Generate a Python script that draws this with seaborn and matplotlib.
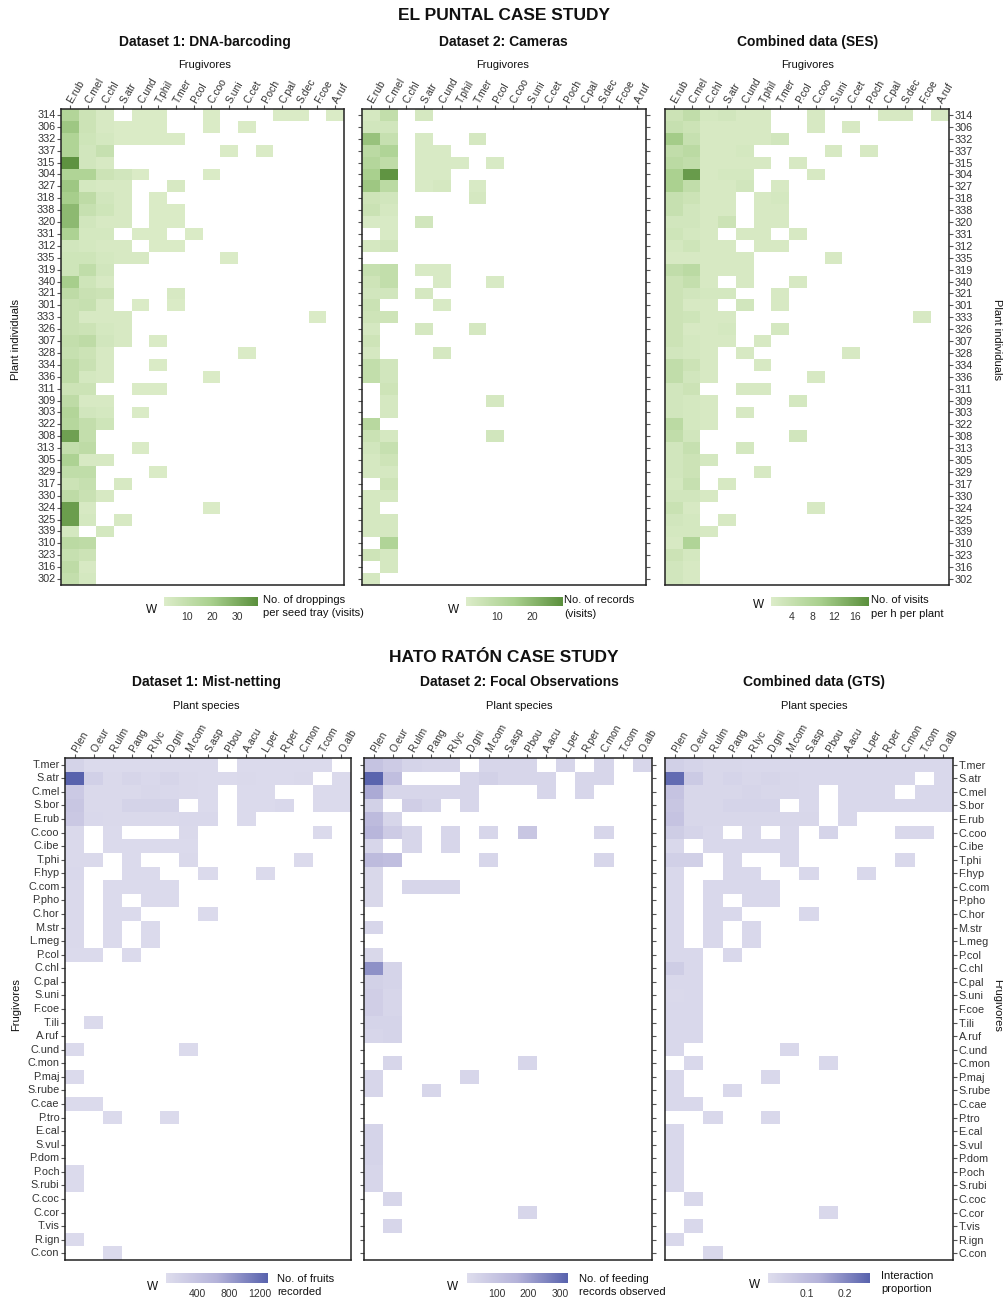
import numpy as np
import pandas as pd
import matplotlib
matplotlib.use("Agg")
import matplotlib.pyplot as plt
from matplotlib.colors import LinearSegmentedColormap
import seaborn as sns

sns.set_style("white")
plt.rcParams['font.family'] = ['Liberation Sans', 'DejaVu Sans']

# ---------------- EL PUNTAL ----------------
plants = ["314", "306", "332", "337", "315", "304", "327", "318", "338", "320",
          "331", "312", "335", "319", "340", "321", "301", "333", "326", "307",
          "328", "334", "336", "311", "309", "303", "322", "308", "313", "305",
          "329", "317", "330", "324", "325", "339", "310", "323", "316", "302"]
frugivores_ep = ["E.rub", "C.mel", "C.chl", "S.atr", "C.und", "T.phil", "T.mer", "P.col",
                 "C.coo", "S.uni", "C.cet", "P.och", "C.pal", "S.dec", "F.coe", "A.ruf"]

# droppings per seed tray (DNA-barcoding)
dna = [
    [16, 7, 3, 0, 2, 2, 0, 0, 2, 0, 0, 0, 2, 2, 0, 2],
    [22, 7, 3, 2, 2, 2, 0, 0, 2, 0, 2, 0, 0, 0, 0, 0],
    [17, 6, 4, 2, 2, 2, 2, 0, 0, 0, 0, 0, 0, 0, 0, 0],
    [17, 5, 9, 0, 0, 0, 0, 0, 0, 2, 0, 2, 0, 0, 0, 0],
    [37, 5, 3, 0, 0, 0, 0, 0, 0, 0, 0, 0, 0, 0, 0, 0],
    [17, 17, 7, 5, 2, 0, 0, 0, 2, 0, 0, 0, 0, 0, 0, 0],
    [22, 4, 3, 3, 0, 0, 3, 0, 0, 0, 0, 0, 0, 0, 0, 0],
    [20, 12, 5, 3, 0, 2, 0, 0, 0, 0, 0, 0, 0, 0, 0, 0],
    [26, 9, 6, 3, 0, 2, 2, 0, 0, 0, 0, 0, 0, 0, 0, 0],
    [26, 5, 3, 3, 0, 2, 2, 0, 0, 0, 0, 0, 0, 0, 0, 0],
    [18, 4, 4, 0, 2, 2, 0, 2, 0, 0, 0, 0, 0, 0, 0, 0],
    [5, 4, 3, 3, 0, 2, 2, 0, 0, 0, 0, 0, 0, 0, 0, 0],
    [6, 6, 4, 3, 3, 0, 0, 0, 0, 2, 0, 0, 0, 0, 0, 0],
    [6, 11, 5, 0, 0, 0, 0, 0, 0, 0, 0, 0, 0, 0, 0, 0],
    [20, 6, 3, 0, 0, 0, 0, 0, 0, 0, 0, 0, 0, 0, 0, 0],
    [12, 8, 7, 0, 0, 0, 3, 0, 0, 0, 0, 0, 0, 0, 0, 0],
    [8, 9, 3, 0, 2, 0, 2, 0, 0, 0, 0, 0, 0, 0, 0, 0],
    [8, 3, 3, 3, 0, 0, 0, 0, 0, 0, 0, 0, 0, 0, 2, 0],
    [8, 7, 4, 3, 0, 0, 0, 0, 0, 0, 0, 0, 0, 0, 0, 0],
    [10, 12, 5, 3, 0, 2, 0, 0, 0, 0, 0, 0, 0, 0, 0, 0],
    [9, 7, 3, 0, 0, 0, 0, 0, 0, 0, 2, 0, 0, 0, 0, 0],
    [12, 8, 3, 0, 0, 2, 0, 0, 0, 0, 0, 0, 0, 0, 0, 0],
    [12, 4, 3, 0, 0, 0, 0, 0, 2, 0, 0, 0, 0, 0, 0, 0],
    [7, 7, 0, 0, 2, 2, 0, 0, 0, 0, 0, 0, 0, 0, 0, 0],
    [12, 3, 3, 0, 0, 0, 0, 0, 0, 0, 0, 0, 0, 0, 0, 0],
    [16, 5, 4, 0, 2, 0, 0, 0, 0, 0, 0, 0, 0, 0, 0, 0],
    [15, 10, 6, 0, 0, 0, 0, 0, 0, 0, 0, 0, 0, 0, 0, 0],
    [33, 10, 0, 0, 0, 0, 0, 0, 0, 0, 0, 0, 0, 0, 0, 0],
    [10, 12, 0, 0, 2, 0, 0, 0, 0, 0, 0, 0, 0, 0, 0, 0],
    [18, 3, 3, 0, 0, 0, 0, 0, 0, 0, 0, 0, 0, 0, 0, 0],
    [11, 11, 0, 0, 0, 2, 0, 0, 0, 0, 0, 0, 0, 0, 0, 0],
    [7, 9, 0, 3, 0, 0, 0, 0, 0, 0, 0, 0, 0, 0, 0, 0],
    [12, 8, 3, 0, 0, 0, 0, 0, 0, 0, 0, 0, 0, 0, 0, 0],
    [34, 3, 0, 0, 0, 0, 0, 0, 2, 0, 0, 0, 0, 0, 0, 0],
    [34, 4, 0, 3, 0, 0, 0, 0, 0, 0, 0, 0, 0, 0, 0, 0],
    [4, 0, 4, 0, 0, 0, 0, 0, 0, 0, 0, 0, 0, 0, 0, 0],
    [13, 12, 0, 0, 0, 0, 0, 0, 0, 0, 0, 0, 0, 0, 0, 0],
    [9, 7, 0, 0, 0, 0, 0, 0, 0, 0, 0, 0, 0, 0, 0, 0],
    [12, 3, 0, 0, 0, 0, 0, 0, 0, 0, 0, 0, 0, 0, 0, 0],
    [10, 4, 0, 0, 0, 0, 0, 0, 0, 0, 0, 0, 0, 0, 0, 0],
]

# camera records
cameras = [
    [3, 8, 0, 3, 0, 0, 0, 0, 0, 0, 0, 0, 0, 0, 0, 0],
    [4, 4, 0, 0, 0, 0, 0, 0, 0, 0, 0, 0, 0, 0, 0, 0],
    [18, 7, 0, 2, 0, 0, 3, 0, 0, 0, 0, 0, 0, 0, 0, 0],
    [10, 13, 0, 2, 2, 0, 0, 0, 0, 0, 0, 0, 0, 0, 0, 0],
    [12, 9, 0, 2, 2, 2, 0, 2, 0, 0, 0, 0, 0, 0, 0, 0],
    [15, 28, 0, 2, 2, 0, 0, 0, 0, 0, 0, 0, 0, 0, 0, 0],
    [17, 10, 0, 2, 3, 0, 2, 0, 0, 0, 0, 0, 0, 0, 0, 0],
    [5, 4, 0, 0, 0, 0, 3, 0, 0, 0, 0, 0, 0, 0, 0, 0],
    [6, 3, 0, 0, 0, 0, 0, 0, 0, 0, 0, 0, 0, 0, 0, 0],
    [2, 2, 0, 4, 0, 0, 0, 0, 0, 0, 0, 0, 0, 0, 0, 0],
    [0, 2, 0, 0, 0, 0, 0, 0, 0, 0, 0, 0, 0, 0, 0, 0],
    [3, 4, 0, 0, 0, 0, 0, 0, 0, 0, 0, 0, 0, 0, 0, 0],
    [0, 0, 0, 0, 0, 0, 0, 0, 0, 0, 0, 0, 0, 0, 0, 0],
    [7, 8, 0, 2, 2, 0, 0, 0, 0, 0, 0, 0, 0, 0, 0, 0],
    [5, 8, 0, 0, 2, 0, 0, 2, 0, 0, 0, 0, 0, 0, 0, 0],
    [4, 4, 0, 3, 0, 0, 0, 0, 0, 0, 0, 0, 0, 0, 0, 0],
    [6, 0, 0, 0, 2, 0, 0, 0, 0, 0, 0, 0, 0, 0, 0, 0],
    [5, 5, 0, 0, 0, 0, 0, 0, 0, 0, 0, 0, 0, 0, 0, 0],
    [3, 0, 0, 3, 0, 0, 3, 0, 0, 0, 0, 0, 0, 0, 0, 0],
    [5, 0, 0, 0, 0, 0, 0, 0, 0, 0, 0, 0, 0, 0, 0, 0],
    [3, 0, 0, 0, 3, 0, 0, 0, 0, 0, 0, 0, 0, 0, 0, 0],
    [8, 4, 0, 0, 0, 0, 0, 0, 0, 0, 0, 0, 0, 0, 0, 0],
    [8, 4, 0, 0, 0, 0, 0, 0, 0, 0, 0, 0, 0, 0, 0, 0],
    [0, 5, 0, 0, 0, 0, 0, 0, 0, 0, 0, 0, 0, 0, 0, 0],
    [0, 3, 0, 0, 0, 0, 0, 3, 0, 0, 0, 0, 0, 0, 0, 0],
    [0, 3, 0, 0, 0, 0, 0, 0, 0, 0, 0, 0, 0, 0, 0, 0],
    [11, 0, 0, 0, 0, 0, 0, 0, 0, 0, 0, 0, 0, 0, 0, 0],
    [6, 3, 0, 0, 0, 0, 0, 4, 0, 0, 0, 0, 0, 0, 0, 0],
    [4, 7, 0, 0, 0, 0, 0, 0, 0, 0, 0, 0, 0, 0, 0, 0],
    [3, 5, 0, 0, 0, 0, 0, 0, 0, 0, 0, 0, 0, 0, 0, 0],
    [3, 3, 0, 0, 0, 0, 0, 0, 0, 0, 0, 0, 0, 0, 0, 0],
    [0, 5, 0, 0, 0, 0, 0, 0, 0, 0, 0, 0, 0, 0, 0, 0],
    [3, 3, 0, 0, 0, 0, 0, 0, 0, 0, 0, 0, 0, 0, 0, 0],
    [3, 0, 0, 0, 0, 0, 0, 0, 0, 0, 0, 0, 0, 0, 0, 0],
    [3, 3, 0, 0, 0, 0, 0, 0, 0, 0, 0, 0, 0, 0, 0, 0],
    [3, 3, 0, 0, 0, 0, 0, 0, 0, 0, 0, 0, 0, 0, 0, 0],
    [0, 13, 0, 0, 0, 0, 0, 0, 0, 0, 0, 0, 0, 0, 0, 0],
    [5, 3, 0, 0, 0, 0, 0, 0, 0, 0, 0, 0, 0, 0, 0, 0],
    [0, 3, 0, 0, 0, 0, 0, 0, 0, 0, 0, 0, 0, 0, 0, 0],
    [3, 0, 0, 0, 0, 0, 0, 0, 0, 0, 0, 0, 0, 0, 0, 0],
]

# combined visits per h per plant (SES)
ses = [
    [3, 5, 1.5, 2, 1, 1, 0, 0, 1, 0, 0, 0, 1, 1, 0, 1],
    [4, 3, 1, 1, 1, 1, 0, 0, 1, 0, 1, 0, 0, 0, 0, 0],
    [10, 4, 1, 1, 1, 1, 2, 0, 0, 0, 0, 0, 0, 0, 0, 0],
    [5, 6, 1, 1, 1.5, 0, 0, 0, 0, 1, 0, 1, 0, 0, 0, 0],
    [6, 5, 1, 1, 1, 1, 0, 1, 0, 0, 0, 0, 0, 0, 0, 0],
    [9, 17, 1, 1.5, 1.5, 0, 0, 0, 1, 0, 0, 0, 0, 0, 0, 0],
    [9, 5, 1, 1, 2, 0, 1, 0, 0, 0, 0, 0, 0, 0, 0, 0],
    [4, 3, 1, 1, 0, 1, 1.5, 0, 0, 0, 0, 0, 0, 0, 0, 0],
    [4, 2, 1, 1, 0, 1, 1, 0, 0, 0, 0, 0, 0, 0, 0, 0],
    [2, 2, 1, 3, 0, 1, 1, 0, 0, 0, 0, 0, 0, 0, 0, 0],
    [2.5, 1.5, 1, 0, 1, 1, 0, 1, 0, 0, 0, 0, 0, 0, 0, 0],
    [1.5, 2.5, 1, 1, 0, 1, 1, 0, 0, 0, 0, 0, 0, 0, 0, 0],
    [1, 1, 1, 1, 1, 0, 0, 0, 0, 1, 0, 0, 0, 0, 0, 0],
    [5, 6, 1, 1, 1, 0, 0, 0, 0, 0, 0, 0, 0, 0, 0, 0],
    [3, 4.5, 1, 0, 1, 0, 0, 1, 0, 0, 0, 0, 0, 0, 0, 0],
    [3, 2, 1.5, 1.5, 0, 0, 1, 0, 0, 0, 0, 0, 0, 0, 0, 0],
    [3, 1, 1, 0, 2, 0, 1, 0, 0, 0, 0, 0, 0, 0, 0, 0],
    [3, 2.5, 1, 1, 0, 0, 0, 0, 0, 0, 0, 0, 0, 0, 1, 0],
    [3, 1, 1, 1.5, 0, 0, 1.5, 0, 0, 0, 0, 0, 0, 0, 0, 0],
    [3, 1.5, 1, 1, 0, 1, 0, 0, 0, 0, 0, 0, 0, 0, 0, 0],
    [2, 1.5, 1, 0, 1, 0, 0, 0, 0, 0, 1, 0, 0, 0, 0, 0],
    [5, 3, 1, 0, 0, 1, 0, 0, 0, 0, 0, 0, 0, 0, 0, 0],
    [5, 2, 1, 0, 0, 0, 0, 0, 1, 0, 0, 0, 0, 0, 0, 0],
    [2, 3, 0, 0, 1, 1, 0, 0, 0, 0, 0, 0, 0, 0, 0, 0],
    [2, 1.5, 1, 0, 0, 0, 0, 1.5, 0, 0, 0, 0, 0, 0, 0, 0],
    [2, 1.5, 1, 0, 1, 0, 0, 0, 0, 0, 0, 0, 0, 0, 0, 0],
    [6, 1.5, 1, 0, 0, 0, 0, 0, 0, 0, 0, 0, 0, 0, 0, 0],
    [5, 2, 0, 0, 0, 0, 0, 2, 0, 0, 0, 0, 0, 0, 0, 0],
    [2, 4, 0, 0, 1.5, 0, 0, 0, 0, 0, 0, 0, 0, 0, 0, 0],
    [2, 3, 1.5, 0, 0, 0, 0, 0, 0, 0, 0, 0, 0, 0, 0, 0],
    [2, 3, 0, 0, 0, 1, 0, 0, 0, 0, 0, 0, 0, 0, 0, 0],
    [1.5, 4, 0, 1, 0, 0, 0, 0, 0, 0, 0, 0, 0, 0, 0, 0],
    [2, 2, 1, 0, 0, 0, 0, 0, 0, 0, 0, 0, 0, 0, 0, 0],
    [3.5, 1, 0, 0, 0, 0, 0, 0, 1, 0, 0, 0, 0, 0, 0, 0],
    [2, 1.5, 0, 1, 0, 0, 0, 0, 0, 0, 0, 0, 0, 0, 0, 0],
    [1.5, 1.5, 1, 0, 0, 0, 0, 0, 0, 0, 0, 0, 0, 0, 0, 0],
    [1, 8, 0, 0, 0, 0, 0, 0, 0, 0, 0, 0, 0, 0, 0, 0],
    [3, 1.5, 0, 0, 0, 0, 0, 0, 0, 0, 0, 0, 0, 0, 0, 0],
    [2, 1, 0, 0, 0, 0, 0, 0, 0, 0, 0, 0, 0, 0, 0, 0],
    [2, 1, 0, 0, 0, 0, 0, 0, 0, 0, 0, 0, 0, 0, 0, 0],
]

# ---------------- HATO RATON ----------------
birds_hr = ["T.mer", "S.atr", "C.mel", "S.bor", "E.rub", "C.coo", "C.ibe", "T.phi", "F.hyp",
            "C.com", "P.pho", "C.hor", "M.str", "L.meg", "P.col", "C.chl", "C.pal", "S.uni",
            "F.coe", "T.ili", "A.ruf", "C.und", "C.mon", "P.maj", "S.rube", "C.cae", "P.tro",
            "E.cal", "S.vul", "P.dom", "P.och", "S.rubi", "C.coc", "C.cor", "T.vis", "R.ign",
            "C.con"]
plant_species = ["P.len", "O.eur", "R.ulm", "P.ang", "R.lyc", "D.gni", "M.com", "S.asp",
                 "P.bou", "A.acu", "L.per", "R.per", "C.mon", "T.com", "O.alb"]

# fruits recorded (mist-netting)
mist = [
    [150, 50, 50, 50, 50, 50, 50, 50, 0, 50, 50, 50, 50, 50, 0],
    [1300, 200, 60, 120, 80, 120, 60, 50, 50, 60, 50, 50, 60, 0, 50],
    [300, 60, 60, 60, 100, 80, 60, 50, 0, 50, 50, 0, 0, 50, 50],
    [350, 60, 60, 150, 150, 150, 0, 50, 0, 50, 50, 80, 0, 50, 50],
    [320, 80, 60, 60, 60, 60, 80, 80, 0, 50, 0, 0, 0, 0, 0],
    [60, 0, 50, 0, 0, 0, 60, 0, 0, 0, 0, 0, 0, 50, 0],
    [60, 0, 50, 50, 50, 50, 50, 0, 0, 0, 0, 0, 0, 0, 0],
    [60, 60, 0, 50, 0, 0, 60, 0, 0, 0, 0, 0, 50, 0, 0],
    [80, 0, 0, 50, 50, 0, 0, 50, 0, 0, 50, 0, 0, 0, 0],
    [60, 0, 50, 50, 50, 50, 0, 0, 0, 0, 0, 0, 0, 0, 0],
    [60, 0, 50, 0, 50, 50, 0, 0, 0, 0, 0, 0, 0, 0, 0],
    [60, 0, 50, 50, 0, 0, 0, 50, 0, 0, 0, 0, 0, 0, 0],
    [60, 0, 50, 0, 50, 0, 0, 0, 0, 0, 0, 0, 0, 0, 0],
    [60, 0, 50, 0, 50, 0, 0, 0, 0, 0, 0, 0, 0, 0, 0],
    [50, 50, 0, 50, 0, 0, 0, 0, 0, 0, 0, 0, 0, 0, 0],
    [0, 0, 0, 0, 0, 0, 0, 0, 0, 0, 0, 0, 0, 0, 0],
    [0, 0, 0, 0, 0, 0, 0, 0, 0, 0, 0, 0, 0, 0, 0],
    [0, 0, 0, 0, 0, 0, 0, 0, 0, 0, 0, 0, 0, 0, 0],
    [0, 0, 0, 0, 0, 0, 0, 0, 0, 0, 0, 0, 0, 0, 0],
    [0, 50, 0, 0, 0, 0, 0, 0, 0, 0, 0, 0, 0, 0, 0],
    [0, 0, 0, 0, 0, 0, 0, 0, 0, 0, 0, 0, 0, 0, 0],
    [50, 0, 0, 0, 0, 0, 50, 0, 0, 0, 0, 0, 0, 0, 0],
    [0, 0, 0, 0, 0, 0, 0, 0, 0, 0, 0, 0, 0, 0, 0],
    [50, 0, 0, 0, 0, 0, 0, 0, 0, 0, 0, 0, 0, 0, 0],
    [0, 0, 0, 0, 0, 0, 0, 0, 0, 0, 0, 0, 0, 0, 0],
    [50, 50, 0, 0, 0, 0, 0, 0, 0, 0, 0, 0, 0, 0, 0],
    [0, 0, 50, 0, 0, 50, 0, 0, 0, 0, 0, 0, 0, 0, 0],
    [0, 0, 0, 0, 0, 0, 0, 0, 0, 0, 0, 0, 0, 0, 0],
    [0, 0, 0, 0, 0, 0, 0, 0, 0, 0, 0, 0, 0, 0, 0],
    [0, 0, 0, 0, 0, 0, 0, 0, 0, 0, 0, 0, 0, 0, 0],
    [50, 0, 0, 0, 0, 0, 0, 0, 0, 0, 0, 0, 0, 0, 0],
    [50, 0, 0, 0, 0, 0, 0, 0, 0, 0, 0, 0, 0, 0, 0],
    [0, 0, 0, 0, 0, 0, 0, 0, 0, 0, 0, 0, 0, 0, 0],
    [0, 0, 0, 0, 0, 0, 0, 0, 0, 0, 0, 0, 0, 0, 0],
    [0, 0, 0, 0, 0, 0, 0, 0, 0, 0, 0, 0, 0, 0, 0],
    [50, 0, 0, 0, 0, 0, 0, 0, 0, 0, 0, 0, 0, 0, 0],
    [0, 0, 50, 0, 0, 0, 0, 0, 0, 0, 0, 0, 0, 0, 0],
]

# feeding records (focal observations)
focal = [
    [100, 70, 40, 30, 30, 0, 30, 30, 30, 0, 30, 0, 30, 0, 30],
    [320, 120, 0, 0, 0, 30, 50, 30, 30, 30, 0, 30, 30, 0, 0],
    [180, 30, 30, 30, 30, 30, 0, 0, 0, 30, 0, 30, 0, 0, 0],
    [50, 0, 60, 40, 0, 30, 0, 0, 0, 0, 0, 0, 0, 0, 0],
    [130, 30, 0, 0, 0, 0, 0, 0, 0, 0, 0, 0, 0, 0, 0],
    [150, 70, 30, 0, 30, 0, 30, 0, 90, 0, 0, 0, 30, 0, 0],
    [30, 0, 30, 0, 30, 0, 0, 0, 0, 0, 0, 0, 0, 0, 0],
    [130, 120, 0, 0, 0, 0, 30, 0, 0, 0, 0, 0, 30, 0, 0],
    [25, 0, 0, 0, 0, 0, 0, 0, 0, 0, 0, 0, 0, 0, 0],
    [25, 0, 30, 30, 30, 0, 0, 0, 0, 0, 0, 0, 0, 0, 0],
    [25, 0, 0, 0, 0, 0, 0, 0, 0, 0, 0, 0, 0, 0, 0],
    [0, 0, 0, 0, 0, 0, 0, 0, 0, 0, 0, 0, 0, 0, 0],
    [30, 0, 0, 0, 0, 0, 0, 0, 0, 0, 0, 0, 0, 0, 0],
    [0, 0, 0, 0, 0, 0, 0, 0, 0, 0, 0, 0, 0, 0, 0],
    [25, 0, 0, 0, 0, 0, 0, 0, 0, 0, 0, 0, 0, 0, 0],
    [230, 40, 0, 0, 0, 0, 0, 0, 0, 0, 0, 0, 0, 0, 0],
    [50, 40, 0, 0, 0, 0, 0, 0, 0, 0, 0, 0, 0, 0, 0],
    [60, 30, 0, 0, 0, 0, 0, 0, 0, 0, 0, 0, 0, 0, 0],
    [60, 30, 0, 0, 0, 0, 0, 0, 0, 0, 0, 0, 0, 0, 0],
    [40, 40, 0, 0, 0, 0, 0, 0, 0, 0, 0, 0, 0, 0, 0],
    [30, 40, 0, 0, 0, 0, 0, 0, 0, 0, 0, 0, 0, 0, 0],
    [0, 0, 0, 0, 0, 0, 0, 0, 0, 0, 0, 0, 0, 0, 0],
    [0, 30, 0, 0, 0, 0, 0, 0, 30, 0, 0, 0, 0, 0, 0],
    [30, 0, 0, 0, 0, 30, 0, 0, 0, 0, 0, 0, 0, 0, 0],
    [30, 0, 0, 30, 0, 0, 0, 0, 0, 0, 0, 0, 0, 0, 0],
    [0, 0, 0, 0, 0, 0, 0, 0, 0, 0, 0, 0, 0, 0, 0],
    [0, 0, 0, 0, 0, 0, 0, 0, 0, 0, 0, 0, 0, 0, 0],
    [40, 0, 0, 0, 0, 0, 0, 0, 0, 0, 0, 0, 0, 0, 0],
    [40, 0, 0, 0, 0, 0, 0, 0, 0, 0, 0, 0, 0, 0, 0],
    [40, 0, 0, 0, 0, 0, 0, 0, 0, 0, 0, 0, 0, 0, 0],
    [30, 0, 0, 0, 0, 0, 0, 0, 0, 0, 0, 0, 0, 0, 0],
    [30, 0, 0, 0, 0, 0, 0, 0, 0, 0, 0, 0, 0, 0, 0],
    [0, 30, 0, 0, 0, 0, 0, 0, 0, 0, 0, 0, 0, 0, 0],
    [0, 0, 0, 0, 0, 0, 0, 0, 30, 0, 0, 0, 0, 0, 0],
    [0, 30, 0, 0, 0, 0, 0, 0, 0, 0, 0, 0, 0, 0, 0],
    [0, 0, 0, 0, 0, 0, 0, 0, 0, 0, 0, 0, 0, 0, 0],
    [0, 0, 0, 0, 0, 0, 0, 0, 0, 0, 0, 0, 0, 0, 0],
]

# interaction proportion (GTS)
gts = [
    [.04, .03, .02, .02, .015, .015, .015, .015, .015, .015, .015, .015, .015, .015, .015],
    [.25, .06, .02, .03, .02, .025, .02, .015, .015, .015, .015, .015, .015, 0, .015],
    [.08, .02, .02, .02, .025, .02, .02, .015, 0, .015, .015, .015, 0, .015, .015],
    [.07, .02, .02, .03, .03, .03, 0, .015, 0, .015, .015, .015, .015, .015, .015],
    [.08, .02, .02, .02, .02, .02, .02, .02, 0, .015, 0, 0, 0, 0, 0],
    [.05, .03, .015, 0, .015, 0, .015, 0, .03, 0, 0, 0, .015, .015, 0],
    [.015, 0, .015, .015, .015, .015, .015, 0, 0, 0, 0, 0, 0, 0, 0],
    [.04, .04, 0, .015, 0, 0, .015, 0, 0, 0, 0, 0, .015, 0, 0],
    [.015, 0, 0, .015, .015, 0, 0, .015, 0, 0, .015, 0, 0, 0, 0],
    [.015, 0, .015, .015, .015, .015, 0, 0, 0, 0, 0, 0, 0, 0, 0],
    [.015, 0, .015, 0, .015, .015, 0, 0, 0, 0, 0, 0, 0, 0, 0],
    [.015, 0, .015, .015, 0, 0, 0, .015, 0, 0, 0, 0, 0, 0, 0],
    [.015, 0, .015, 0, .015, 0, 0, 0, 0, 0, 0, 0, 0, 0, 0],
    [.015, 0, .015, 0, .015, 0, 0, 0, 0, 0, 0, 0, 0, 0, 0],
    [.015, .015, 0, .015, 0, 0, 0, 0, 0, 0, 0, 0, 0, 0, 0],
    [.05, .015, 0, 0, 0, 0, 0, 0, 0, 0, 0, 0, 0, 0, 0],
    [.015, .015, 0, 0, 0, 0, 0, 0, 0, 0, 0, 0, 0, 0, 0],
    [.012, .015, 0, 0, 0, 0, 0, 0, 0, 0, 0, 0, 0, 0, 0],
    [.015, .015, 0, 0, 0, 0, 0, 0, 0, 0, 0, 0, 0, 0, 0],
    [.015, .015, 0, 0, 0, 0, 0, 0, 0, 0, 0, 0, 0, 0, 0],
    [.015, .015, 0, 0, 0, 0, 0, 0, 0, 0, 0, 0, 0, 0, 0],
    [.015, 0, 0, 0, 0, 0, .015, 0, 0, 0, 0, 0, 0, 0, 0],
    [0, .015, 0, 0, 0, 0, 0, 0, .015, 0, 0, 0, 0, 0, 0],
    [.015, 0, 0, 0, 0, .015, 0, 0, 0, 0, 0, 0, 0, 0, 0],
    [.015, 0, 0, .015, 0, 0, 0, 0, 0, 0, 0, 0, 0, 0, 0],
    [.015, .015, 0, 0, 0, 0, 0, 0, 0, 0, 0, 0, 0, 0, 0],
    [0, 0, .015, 0, 0, .015, 0, 0, 0, 0, 0, 0, 0, 0, 0],
    [.015, 0, 0, 0, 0, 0, 0, 0, 0, 0, 0, 0, 0, 0, 0],
    [.015, 0, 0, 0, 0, 0, 0, 0, 0, 0, 0, 0, 0, 0, 0],
    [.015, 0, 0, 0, 0, 0, 0, 0, 0, 0, 0, 0, 0, 0, 0],
    [.015, 0, 0, 0, 0, 0, 0, 0, 0, 0, 0, 0, 0, 0, 0],
    [.015, 0, 0, 0, 0, 0, 0, 0, 0, 0, 0, 0, 0, 0, 0],
    [0, .015, 0, 0, 0, 0, 0, 0, 0, 0, 0, 0, 0, 0, 0],
    [0, 0, 0, 0, 0, 0, 0, 0, .015, 0, 0, 0, 0, 0, 0],
    [0, .015, 0, 0, 0, 0, 0, 0, 0, 0, 0, 0, 0, 0, 0],
    [.015, 0, 0, 0, 0, 0, 0, 0, 0, 0, 0, 0, 0, 0, 0],
    [0, 0, .015, 0, 0, 0, 0, 0, 0, 0, 0, 0, 0, 0, 0],
]

green = LinearSegmentedColormap.from_list("grn", ["#dcecc9", "#a9d08e", "#5a8f3c"])
purple = LinearSegmentedColormap.from_list("pur", ["#dedded", "#b4b2d9", "#5862ad"])

W, H = 1004, 1301
fig = plt.figure(figsize=(W / 100, H / 100), dpi=100)


def px(x0, y0, x1, y1):
    return [x0 / W, 1 - y1 / H, (x1 - x0) / W, (y1 - y0) / H]


TXT = "#333333"


def panel(box, cbox, vals, rows, cols, cmap, vmin, vmax, ticks, ticklabels, side):
    ax = fig.add_axes(px(*box))
    cax = fig.add_axes(px(*cbox))
    df = pd.DataFrame(vals, index=rows, columns=cols)
    sns.heatmap(df, mask=(df == 0), cmap=cmap, vmin=vmin, vmax=vmax, ax=ax,
                cbar_ax=cax, cbar_kws={"orientation": "horizontal", "ticks": ticks},
                xticklabels=cols, yticklabels=rows, linewidths=0)
    ax.set_facecolor("white")
    for s in ax.spines.values():
        s.set_visible(True)
        s.set_color("#222222")
        s.set_linewidth(1.1)
    ax.xaxis.tick_top()
    ax.tick_params(axis="x", top=True, bottom=False, length=3, width=0.8,
                   color="#555555", labelsize=7.5, labelcolor=TXT, pad=1.5)
    plt.setp(ax.get_xticklabels(), rotation=60, ha="left", va="center",
             rotation_mode="anchor")
    ax.tick_params(axis="y", length=3, width=0.8, color="#555555", labelsize=7.8,
                   labelcolor=TXT, pad=1, rotation=0)
    if side == "left":
        ax.tick_params(axis="y", left=True, right=False, labelleft=True, labelright=False)
    elif side == "right":
        ax.tick_params(axis="y", left=False, right=True, labelleft=False, labelright=True)
    else:
        ax.tick_params(axis="y", left=True, right=True, labelleft=False, labelright=False)
    ax.set_xlabel("")
    ax.set_ylabel("")
    cb = ax.collections[0].colorbar
    cb.outline.set_visible(False)
    cax.set_xticklabels(ticklabels)
    cax.tick_params(axis="x", direction="in", length=2.5, width=0.8, color="white",
                    top=True, bottom=True, labelsize=7.5, labelcolor=TXT, pad=4)
    return ax


# top case study
top_y = (109, 585)
cb_top = (597, 606)
panel((61, top_y[0], 344, top_y[1]), (164, cb_top[0], 258, cb_top[1]), dna, plants,
      frugivores_ep, green, 1, 38, [10, 20, 30], ["10", "20", "30"], "left")
panel((362, top_y[0], 646, top_y[1]), (466, cb_top[0], 563, cb_top[1]), cameras, plants,
      frugivores_ep, green, 1, 29, [10, 20], ["10", "20"], "both")
panel((665, top_y[0], 949, top_y[1]), (771, cb_top[0], 869, cb_top[1]), ses, plants,
      frugivores_ep, green, 0, 18.7, [4, 8, 12, 16], ["4", "8", "12", "16"], "right")

# bottom case study
bot_y = (758, 1260)
cb_bot = (1273, 1283)
panel((65, bot_y[0], 351, bot_y[1]), (166, cb_bot[0], 268, cb_bot[1]), mist, birds_hr,
      plant_species, purple, 1, 1300, [400, 800, 1200], ["400", "800", "1200"], "left")
panel((364, bot_y[0], 652, bot_y[1]), (467, cb_bot[0], 568, cb_bot[1]), focal, birds_hr,
      plant_species, purple, 5, 325, [100, 200, 300], ["100", "200", "300"], "both")
panel((665, bot_y[0], 953, bot_y[1]), (768, cb_bot[0], 870, cb_bot[1]), gts, birds_hr,
      plant_species, purple, 0, 0.265, [0.1, 0.2], ["0.1", "0.2"], "right")


def t(x, y, s, **kw):
    kw.setdefault("color", "#111111")
    fig.text(x / W, 1 - y / H, s, **kw)


t(504, 15, "EL PUNTAL CASE STUDY", ha="center", va="center", fontsize=12.5, weight="bold")
t(504, 658, "HATO RATÓN CASE STUDY", ha="center", va="center", fontsize=12.5, weight="bold")
for x, s in [(205, "Dataset 1: DNA-barcoding"), (503, "Dataset 2: Cameras"),
             (808, "Combined data (SES)")]:
    t(x, 42, s, ha="center", va="center", fontsize=10, weight="bold")
    t(x, 65, "Frugivores", ha="center", va="center", fontsize=8)
for x, s in [(206, "Dataset 1: Mist-netting"), (519, "Dataset 2: Focal Observations"),
             (814, "Combined data (GTS)")]:
    t(x, 682, s, ha="center", va="center", fontsize=10, weight="bold")
    t(x, 706, "Plant species", ha="center", va="center", fontsize=8)

t(16, 340, "Plant individuals", ha="center", va="center", fontsize=8, rotation=90)
t(997, 340, "Plant individuals", ha="center", va="center", fontsize=8, rotation=270)
t(16, 1005, "Frugivores", ha="center", va="center", fontsize=8, rotation=90)
t(997, 1005, "Frugivores", ha="center", va="center", fontsize=8, rotation=270)

# legend side texts
for x, y, s in [(152, 610, "W"), (454, 610, "W"), (759, 605, "W"),
                (153, 1287, "W"), (453, 1287, "W"), (755, 1285, "W")]:
    t(x, y, s, ha="center", va="center", fontsize=8.5)
for x, y1, y2, a, b in [(263, 600, 613, "No. of droppings", "per seed tray (visits)"),
                        (564, 600, 614, "No. of records", "(visits)"),
                        (871, 600, 614, "No. of visits", "per h per plant"),
                        (277, 1279, 1292, "No. of fruits", "recorded"),
                        (579, 1279, 1292, "No. of feeding", "records observed"),
                        (881, 1276, 1289, "Interaction", "proportion")]:
    t(x, y1, a, ha="left", va="center", fontsize=8)
    t(x, y2, b, ha="left", va="center", fontsize=8)

fig.savefig("out.png", dpi=100, facecolor="white")
